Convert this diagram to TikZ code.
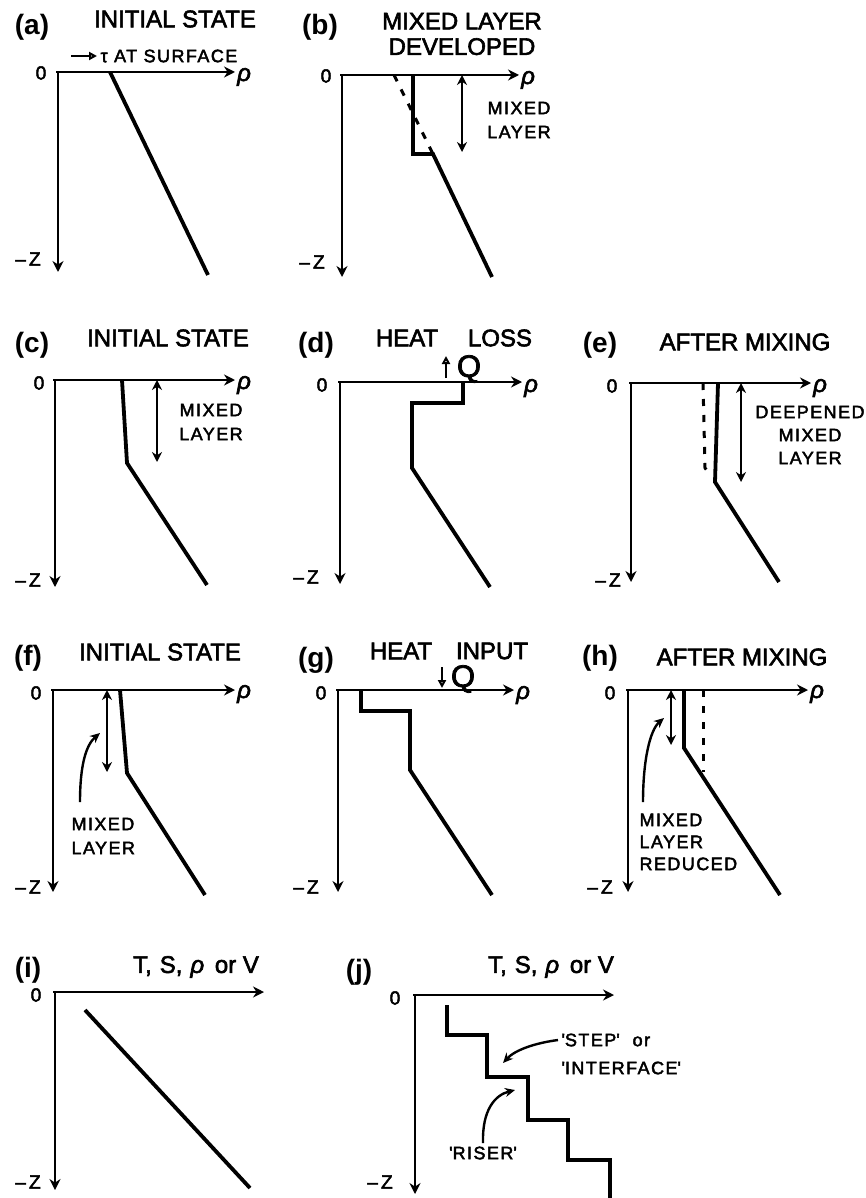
\documentclass[tikz,border=0pt]{standalone}
\usepackage{fontspec}
\setmainfont{Liberation Sans}
\newfontfamily\titlefont[FakeBold=2.5]{Liberation Sans}
\newfontfamily\lblfont[FakeBold=2.5,LetterSpace=8]{Liberation Sans}
\usepackage{tikz}
\usetikzlibrary{arrows.meta}

\tikzset{
  axis/.style={line width=2.8pt,-{Stealth[length=11pt,width=11pt]}},
  profile/.style={line width=3.8pt,line join=miter},
  oldprof/.style={line width=3pt,dash pattern=on 7pt off 9pt},
  depth/.style={line width=2.6pt,{Stealth[length=10pt,width=10pt]}-{Stealth[length=10pt,width=10pt]}},
  pointer/.style={line width=2.4pt,-{Stealth[length=10pt,width=9pt]}},
  flux/.style={line width=2.2pt,-{Triangle[open,length=8pt,width=8pt]}},
  tag/.style={font=\fontsize{28}{30}\selectfont\bfseries},
  title/.style={font=\fontsize{24}{25.5}\titlefont,align=center},
  lbl/.style={font=\fontsize{18}{24}\lblfont,align=center},
  tick/.style={font=\fontsize{19}{20}\lblfont},
  rho/.style={font=\fontsize{24}{24}\titlefont\itshape,anchor=west,inner sep=1pt},
  heatq/.style={font=\fontsize{31}{31}\titlefont,inner sep=0pt},
}

\begin{document}
\begin{tikzpicture}[x=1pt,y=-1pt]

\useasboundingbox (0,0) rectangle (866,1198);

% ---------- (a) initial state ----------
\draw[axis] (56,72) -- (235,72);
\draw[axis] (58,72) -- (58,272);
\node[tick] (a0) at (41,73) {0};
\node[rho] (arho) at (236,77) {ρ};
\node[tick] (az) at (28,259) {–\,Z};
\node[tag] (atag) at (32,27) {(a)};
\node[title] (atitle) at (175,19) {INITIAL STATE};
\node[lbl,anchor=west] (atau) at (97,56) {τ AT SURFACE};
\draw[flux] ([xshift=-26pt]atau.west) -- (atau.west);
\draw[profile] (110,72) -- (208,275);

% ---------- (b) mixed layer developed ----------
\draw[axis] (340,75) -- (519,75);
\draw[axis] (342,75) -- (342,277);
\node[tick] (b0) at (326,76) {0};
\node[rho] (brho) at (520,80) {ρ};
\node[tick] (bz) at (312,262) {–\,Z};
\node[tag] (btag) at (320,27) {(b)};
\node[title] (btitle) at (462,34) {MIXED LAYER\\DEVELOPED};
\draw[oldprof] (394,75) -- (433,154);
\draw[profile] (413,75) -- (413,154) -- (433,154) -- (492,277);
\draw[depth] (462,75) -- (462,152);
\node[lbl] (bml) at (519,120) {MIXED\\LAYER};

% ---------- (c) initial state ----------
\draw[axis] (53,380) -- (235,380);
\draw[axis] (55,380) -- (55,587);
\node[tick] (c0) at (39,383) {0};
\node[rho] (crho) at (236,385) {ρ};
\node[tick] (cz) at (28,580) {–\,Z};
\node[tag] (ctag) at (32,345) {(c)};
\node[title] (ctitle) at (168,338) {INITIAL STATE};
\draw[profile] (122,380) -- (127,463) -- (207,585);
\draw[depth] (157,380) -- (157,462);
\node[lbl] (cml) at (211,422) {MIXED\\LAYER};

% ---------- (d) heat loss ----------
\draw[axis] (338,382) -- (522,382);
\draw[axis] (340,382) -- (340,584);
\node[tick] (d0) at (322,385) {0};
\node[rho] (drho) at (523,388) {ρ};
\node[tick] (dz) at (306,577) {–\,Z};
\node[tag] (dtag) at (316,345) {(d)};
\node[title] (dheat) at (407,338) {HEAT};
\node[title] (dloss) at (500,338) {LOSS};
\draw[profile] (463,382) -- (463,403) -- (412,403) -- (412,468) -- (490,587);
\node[heatq] (dq) at (469,369) {Q};
\draw[flux] (446,378) -- (446,356);

% ---------- (e) after mixing ----------
\draw[axis] (629,383) -- (811,383);
\draw[axis] (631,383) -- (631,582);
\node[tick] (e0) at (612,386) {0};
\node[rho] (erho) at (812,388) {ρ};
\node[tick] (ez) at (608,580) {–\,Z};
\node[tag] (etag) at (600,345) {(e)};
\node[title] (etitle) at (745,342) {AFTER MIXING};
\draw[oldprof] (703,383) -- (705,468) -- (711,476);
\draw[profile] (718,383) -- (715,482) -- (779,582);
\draw[depth] (741,383) -- (741,482);
\node[lbl,font=\fontsize{18}{23}\lblfont] (eml) at (810,435) {DEEPENED\\MIXED\\LAYER};

% ---------- (f) initial state ----------
\draw[axis] (51,690) -- (235,690);
\draw[axis] (53,690) -- (53,892);
\node[tick] (f0) at (36,693) {0};
\node[rho] (frho) at (236,694) {ρ};
\node[tick] (fz) at (28,887) {–\,Z};
\node[tag] (ftag) at (28,658) {(f)};
\node[title] (ftitle) at (160,652) {INITIAL STATE};
\draw[profile] (120,690) -- (127,773) -- (205,895);
\draw[depth] (107,690) -- (107,772);
\node[lbl,align=left,anchor=west] (fml) at (68,836) {MIXED\\LAYER};
\draw[pointer] (80,802) .. controls (80,765) and (86,745) .. (100,733);

% ---------- (g) heat input ----------
\draw[axis] (336,690) -- (514,690);
\draw[axis] (338,690) -- (338,892);
\node[tick] (g0) at (321,693) {0};
\node[rho] (grho) at (515,695) {ρ};
\node[tick] (gz) at (306,887) {–\,Z};
\node[tag] (gtag) at (316,660) {(g)};
\node[title] (gheat) at (401,651) {HEAT};
\node[title] (ginput) at (492,651) {INPUT};
\draw[profile] (361,690) -- (361,711) -- (410,711) -- (410,770) -- (492,895);
\node[heatq] (gq) at (463,679) {Q};
\draw[flux] (442,667) -- (442,688);

% ---------- (h) after mixing ----------
\draw[axis] (626,690) -- (808,690);
\draw[axis] (628,690) -- (628,892);
\node[tick] (h0) at (610,693) {0};
\node[rho] (hrho) at (809,694) {ρ};
\node[tick] (hz) at (600,887) {–\,Z};
\node[tag] (htag) at (600,658) {(h)};
\node[title] (htitle) at (742,657) {AFTER MIXING};
\draw[oldprof] (703,690) -- (703,772);
\draw[profile] (684,690) -- (684,748) -- (780,895);
\draw[depth] (671,690) -- (671,745);
\node[lbl,align=left,anchor=west,font=\fontsize{18}{22}\lblfont] (hml) at (636,842) {MIXED\\LAYER\\REDUCED};
\draw[pointer] (643,802) .. controls (643,760) and (650,730) .. (664,718);

% ---------- (i) smooth profile ----------
\draw[axis] (53,992) -- (264,992);
\draw[axis] (55,992) -- (55,1190);
\node[tick] (i0) at (36,995) {0};
\node[tick] (iz) at (28,1182) {–\,Z};
\node[tag] (itag) at (28,970) {(i)};
\node[title] (ititle) at (196,967) {T,\,\,S,\,\,{\itshape ρ} \,or V};
\draw[profile] (85,1010) -- (250,1188);

% ---------- (j) step structure ----------
\draw[axis] (413,995) -- (614,995);
\draw[axis] (415,995) -- (415,1194);
\node[tick] (j0) at (395,998) {0};
\node[tick] (jz) at (380,1182) {–\,Z};
\node[tag] (jtag) at (359,972) {(j)};
\node[title] (jtitle) at (551,967) {T,\,\,S,\,\,{\itshape ρ} \,or V};
\draw[profile] (447,1005) -- (447,1035) -- (487,1035) -- (487,1077) -- (528,1077)
  -- (528,1120) -- (568,1120) -- (568,1160) -- (610,1160) -- (610,1198);
\node[lbl,anchor=west] (jstep) at (558,1040) {\textquotesingle STEP\textquotesingle\ \ or};
\node[lbl,anchor=west] (jface) at (558,1068) {\textquotesingle INTERFACE\textquotesingle};
\node[lbl] (jriser) at (483,1153) {\textquotesingle RISER\textquotesingle};
\draw[pointer] (jstep.west) .. controls (535,1043) and (515,1050) .. (503,1063);
\draw[pointer] (jriser.north) .. controls (482,1110) and (495,1095) .. (515,1090);

\end{tikzpicture}
\end{document}
